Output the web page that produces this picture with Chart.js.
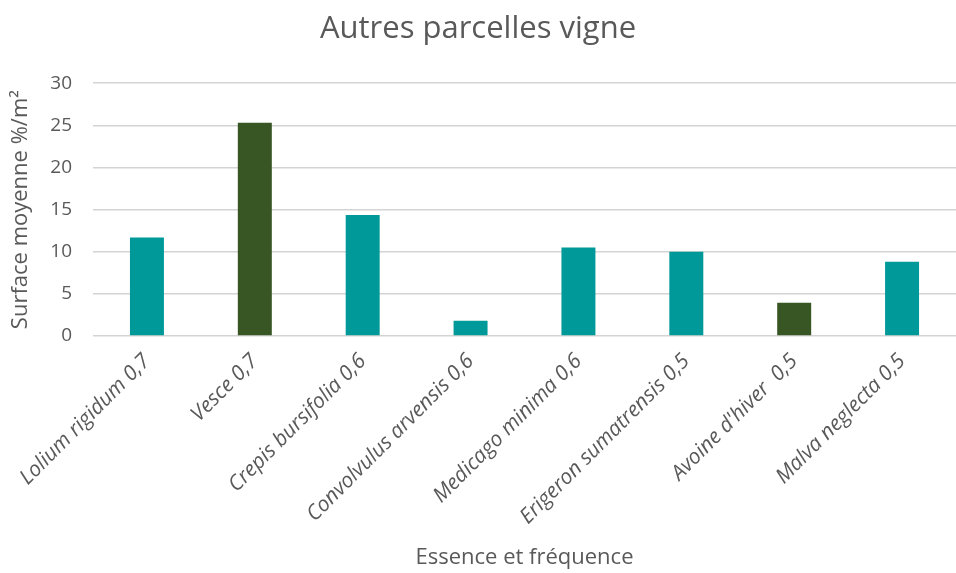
<!DOCTYPE html>
<html>
<head>
<meta charset="utf-8">
<script src="https://cdn.jsdelivr.net/npm/chart.js@4/dist/chart.umd.min.js"></script>
<style>
html,body{margin:0;padding:0;background:#fff;}
#wrap{width:956px;height:573px;position:relative;}
</style>
</head>
<body>
<div id="wrap"><canvas id="c" width="956" height="573"></canvas></div>
<script>
const categories = ["Lolium rigidum 0,7", "Vesce 0,7", "Crepis bursifolia 0,6", "Convolvulus arvensis 0,6", "Medicago minima 0,6", "Erigeron sumatrensis 0,5", "Avoine d'hiver  0,5", "Malva neglecta 0,5"];
const values = [11.7, 25.3, 14.35, 1.8, 10.5, 10.0, 3.95, 8.8];
const sownCover = ["Vesce 0,7", "Avoine d'hiver  0,5"];
const yTicks = [0, 5, 10, 15, 20, 25, 30];

const TEAL = '#009999';
const DARK = '#375623';
const FONT = "'Open Sans', 'Noto Sans', sans-serif";
const GREY = '#595959';

new Chart(document.getElementById('c'), {
  type: 'bar',
  data: {
    labels: categories,
    datasets: [{
      data: values,
      backgroundColor: categories.map(c => sownCover.includes(c) ? DARK : TEAL),
      barPercentage: 1,
      categoryPercentage: 0.315
    }]
  },
  options: {
    responsive: false,
    animation: false,
    layout: { padding: 0 },
    plugins: {
      legend: { display: false },
      tooltip: { enabled: false },
      title: {
        display: true,
        text: 'Autres parcelles vigne',
        color: GREY,
        font: { family: FONT, size: 31, weight: 'normal' },
        padding: { top: 11, bottom: 35 }
      }
    },
    scales: {
      x: {
        grid: { display: false },
        border: { display: false },
        ticks: {
          color: GREY,
          font: { family: FONT, size: 21, style: 'italic' },
          maxRotation: 45,
          minRotation: 45,
          autoSkip: false,
          padding: 5
        },
        title: {
          display: true,
          text: 'Essence et fréquence',
          color: GREY,
          font: { family: FONT, size: 22 },
          padding: { top: 4, bottom: 2 }
        },
        afterFit: s => { s.height = 237; }
      },
      y: {
        min: 0,
        max: 30,
        afterBuildTicks: s => { s.ticks = yTicks.map(v => ({ value: v })); },
        grid: { color: '#d4d4d4', lineWidth: 1.5, drawTicks: false },
        border: { display: false },
        ticks: {
          color: GREY,
          font: { family: FONT, size: 19 },
          padding: 21
        },
        title: {
          display: true,
          text: 'Surface moyenne %/m²',
          color: GREY,
          font: { family: FONT, size: 22 },
          padding: { top: 8, bottom: 2 }
        },
        afterFit: s => { s.width = 93; }
      }
    }
  }
});
</script>
</body>
</html>
